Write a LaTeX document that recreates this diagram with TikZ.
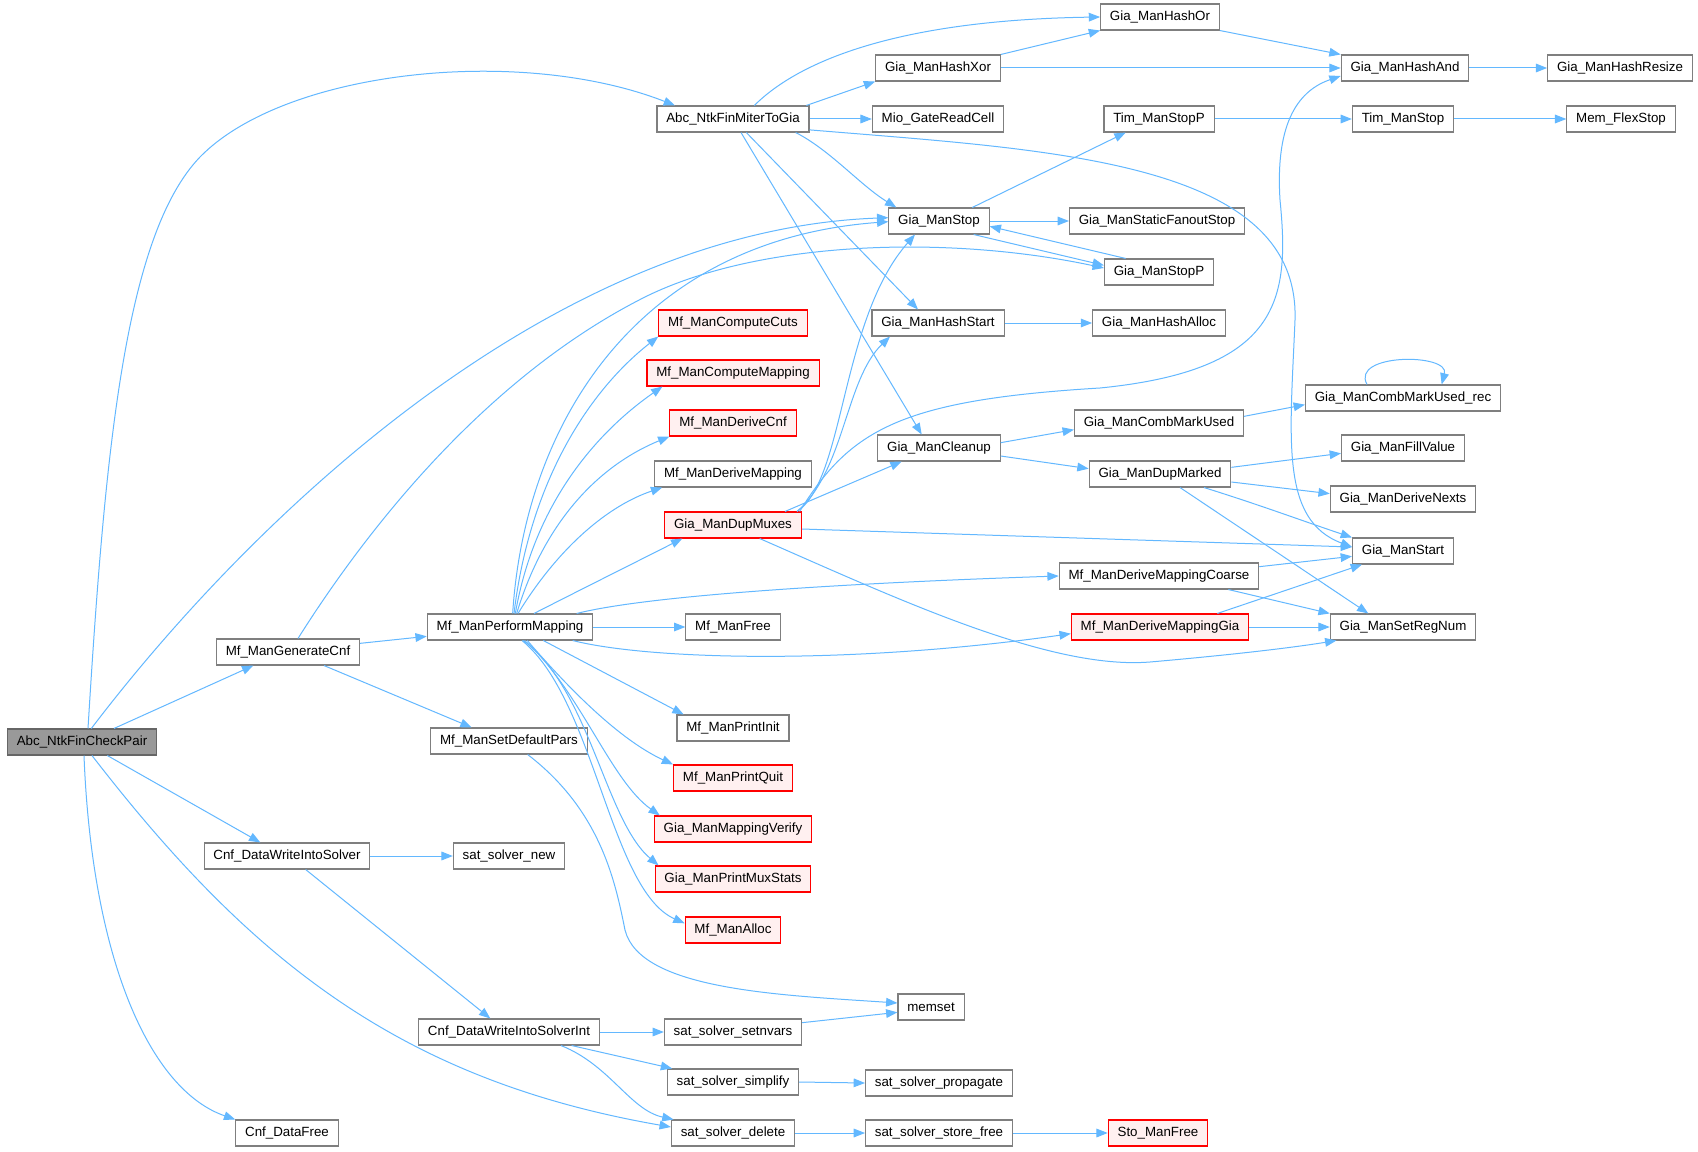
\documentclass[tikz,border=0pt]{standalone}
\usepackage{fontspec}
\setmainfont{Liberation Sans}
\usepackage{tikz}
\usetikzlibrary{arrows.meta}
\definecolor{edgeblue}{HTML}{63B8FF}
\definecolor{boxgray}{HTML}{7F7F7F}
\definecolor{rootgray}{HTML}{999999}
\definecolor{redfill}{HTML}{FFF0F0}
\tikzstyle{func} = [rectangle, draw=boxgray, fill=white, line width=0.8pt,
    minimum height=19.5pt, inner xsep=7pt, inner ysep=0pt, font=\fontsize{10}{12}\selectfont]
\tikzstyle{funcred} = [func, draw=red, fill=redfill]
\tikzstyle{funcroot} = [func, draw=boxgray!80!black, fill=rootgray]
\tikzstyle{call} = [draw=edgeblue, line width=0.75pt, -{Triangle[length=8.5pt,width=6.5pt]}]

\begin{document}
\begin{tikzpicture}[x=0.75pt, y=-0.75pt]
  \fill[white] (0,0) rectangle (1698,1152);
  \useasboundingbox (0,0) rectangle (1698,1152);
  % Place nodes
  \node [funcroot] (check) at (82,742) {Abc\_NtkFinCheckPair};
  \node [func] (gencnf) at (288,652) {Mf\_ManGenerateCnf};
  \node [func] (wis) at (287,856) {Cnf\_DataWriteIntoSolver};
  \node [func] (cdf) at (287,1133) {Cnf\_DataFree};
  \node [func] (miter) at (733,119) {Abc\_NtkFinMiterToGia};
  \node [func] (perf) at (510,627) {Mf\_ManPerformMapping};
  \node [func] (setdef) at (509,741) {Mf\_ManSetDefaultPars};
  \node [func] (satnew) at (509,856) {sat\_solver\_new};
  \node [func] (wisi) at (509,1032) {Cnf\_DataWriteIntoSolverInt};
  \node [funcred] (cuts) at (733,323) {Mf\_ManComputeCuts};
  \node [funcred] (cmap) at (733,373) {Mf\_ManComputeMapping};
  \node [funcred] (dcnf) at (733,423) {Mf\_ManDeriveCnf};
  \node [func] (dmap) at (733,474) {Mf\_ManDeriveMapping};
  \node [funcred] (dupmux) at (733,525) {Gia\_ManDupMuxes};
  \node [func] (mffree) at (733,627) {Mf\_ManFree};
  \node [func] (pinit) at (733,728) {Mf\_ManPrintInit};
  \node [funcred] (pquit) at (733,778) {Mf\_ManPrintQuit};
  \node [funcred] (verify) at (733,829) {Gia\_ManMappingVerify};
  \node [funcred] (muxstats) at (733,879) {Gia\_ManPrintMuxStats};
  \node [funcred] (alloc) at (733,930) {Mf\_ManAlloc};
  \node [func] (setnvars) at (733,1032) {sat\_solver\_setnvars};
  \node [func] (simplify) at (733,1082) {sat\_solver\_simplify};
  \node [func] (satdel) at (733,1133) {sat\_solver\_delete};
  \node [func] (hashxor) at (938,68) {Gia\_ManHashXor};
  \node [func] (mio) at (938,119) {Mio\_GateReadCell};
  \node [func] (stop) at (939,221) {Gia\_ManStop};
  \node [func] (hashstart) at (938,323) {Gia\_ManHashStart};
  \node [func] (cleanup) at (939,448) {Gia\_ManCleanup};
  \node [func] (memset) at (931,1007) {memset};
  \node [func] (propagate) at (939,1083) {sat\_solver\_propagate};
  \node [func] (storefree) at (939,1133) {sat\_solver\_store\_free};
  \node [func] (hashor) at (1160,17) {Gia\_ManHashOr};
  \node [func] (timstopp) at (1159,119) {Tim\_ManStopP};
  \node [func] (fanout) at (1157,221) {Gia\_ManStaticFanoutStop};
  \node [func] (stopp) at (1159,272) {Gia\_ManStopP};
  \node [func] (hashalloc) at (1159,323) {Gia\_ManHashAlloc};
  \node [func] (combmark) at (1159,423) {Gia\_ManCombMarkUsed};
  \node [func] (dupmarked) at (1160,474) {Gia\_ManDupMarked};
  \node [func] (coarse) at (1159,576) {Mf\_ManDeriveMappingCoarse};
  \node [funcred] (dmgia) at (1160,627) {Mf\_ManDeriveMappingGia};
  \node [funcred] (stofree) at (1158,1133) {Sto\_ManFree};
  \node [func] (hashand) at (1405,68) {Gia\_ManHashAnd};
  \node [func] (timstop) at (1403,119) {Tim\_ManStop};
  \node [func] (combrec) at (1403,398) {Gia\_ManCombMarkUsed\_rec};
  \node [func] (fillvalue) at (1403,448) {Gia\_ManFillValue};
  \node [func] (nexts) at (1403,499) {Gia\_ManDeriveNexts};
  \node [func] (start) at (1403,551) {Gia\_ManStart};
  \node [func] (setreg) at (1403,627) {Gia\_ManSetRegNum};
  \node [func] (hashresize) at (1620,68) {Gia\_ManHashResize};
  \node [func] (flexstop) at (1621,119) {Mem\_FlexStop};
  % Draw edges
  \draw[call] ([xshift=4.5pt]check.north) .. controls (105,450) and (125,235) .. (200,157) .. controls (285,70) and (520,45) .. ([xshift=-43.5pt]miter.north);
  \draw[call] ([xshift=7pt]check.north) .. controls (250,520) and (550,230) .. ([yshift=2.5pt]stop.west);
  \draw[call] ([xshift=24pt]check.north) -- ([xshift=-26pt]gencnf.south);
  \draw[call] ([xshift=19pt]check.south) -- ([xshift=-20pt]wis.north);
  \draw[call] ([xshift=1.5pt]check.south) .. controls (92,960) and (150,1090) .. (cdf.north west);
  \draw[call] ([xshift=7.5pt]check.south) .. controls (250,960) and (400,1080) .. ([yshift=4.5pt]satdel.west);
  \draw[call] ([xshift=7.5pt]gencnf.north) .. controls (360,540) and (480,380) .. (645,297) .. controls (760,240) and (950,235) .. ([yshift=3pt]stopp.west);
  \draw[call] ([yshift=6.5pt]gencnf.east) -- ([yshift=-7pt]perf.west);
  \draw[call] ([xshift=27pt]gencnf.south) -- ([xshift=-28pt]setdef.north);
  \draw[call] ([xshift=2pt]perf.north) .. controls (525,420) and (640,240) .. ([yshift=-0.5pt]stop.west);
  \draw[call] ([xshift=3pt]perf.north) .. controls (530,480) and (590,390) .. (cuts.south west);
  \draw[call] ([xshift=4pt]perf.north) .. controls (535,500) and (600,430) .. ([xshift=12pt]cmap.south west);
  \draw[call] ([xshift=5pt]perf.north) .. controls (545,520) and (600,465) .. (dcnf.south west);
  \draw[call] ([xshift=6pt]perf.north) .. controls (560,545) and (610,505) .. ([xshift=6pt]dmap.south west);
  \draw[call] ([xshift=18pt]perf.north) .. controls (580,590) and (640,560) .. ([xshift=-38pt]dupmux.south);
  \draw[call] ([xshift=50pt]perf.north) .. controls (650,595) and (850,583) .. (coarse.west);
  \draw[call] (perf.east) -- (mffree.west);
  \draw[call] ([xshift=47pt]perf.south) .. controls (650,660) and (850,665) .. ([yshift=-5pt]dmgia.west);
  \draw[call] ([xshift=25pt]perf.south) -- ([xshift=-37pt]pinit.north);
  \draw[call] ([xshift=13pt]perf.south) .. controls (570,690) and (620,740) .. (pquit.north west);
  \draw[call] ([xshift=11pt]perf.south) .. controls (580,690) and (610,780) .. ([xshift=4.5pt]verify.north west);
  \draw[call] ([xshift=10pt]perf.south) .. controls (590,690) and (605,820) .. ([xshift=3pt]muxstats.north west);
  \draw[call] ([xshift=9pt]perf.south) .. controls (595,700) and (610,890) .. ([yshift=5pt]alloc.west);
  \draw[call] ([xshift=16pt]miter.north) .. controls (800,60) and (900,20) .. (hashor.west);
  \draw[call] ([xshift=55pt]miter.north) -- (hashxor.south west);
  \draw[call] (miter.east) -- (mio.west);
  \draw[call] ([xshift=47pt]miter.south) .. controls (830,150) and (860,185) .. ([xshift=-32pt]stop.north);
  \draw[call] ([yshift=2pt]miter.south east) .. controls (1050,150) and (1300,160) .. (1295,320) .. controls (1290,440) and (1280,520) .. ([yshift=3pt]start.west);
  \draw[call] ([xshift=10pt]miter.south) -- ([xshift=-15pt]hashstart.north);
  \draw[call] ([xshift=6pt]miter.south) -- ([xshift=-13pt]cleanup.north);
  \draw[call] ([xshift=25pt]stop.north) -- ([xshift=-25pt]timstopp.south);
  \draw[call] (stop.east) -- (fanout.west);
  \draw[call] ([xshift=26pt]stop.south) -- ([yshift=5pt]stopp.west);
  \draw[call] ([xshift=-25pt]stopp.north) -- ([yshift=-4pt]stop.east);
  \draw[call] (hashxor.north east) -- (hashor.south west);
  \draw[call] (hashxor.east) -- (hashand.west);
  \draw[call] (hashor.south east) -- (hashand.north west);
  \draw[call] (hashand.east) -- (hashresize.west);
  \draw[call] (timstopp.east) -- (timstop.west);
  \draw[call] (timstop.east) -- (flexstop.west);
  \draw[call] (hashstart.east) -- (hashalloc.west);
  \draw[call] ([yshift=4pt]cleanup.east) -- ([yshift=-5pt]combmark.west);
  \draw[call] ([yshift=-6pt]cleanup.east) -- ([yshift=4pt]dupmarked.west);
  \draw[call] ([yshift=5pt]combmark.east) -- ([yshift=-5pt]combrec.west);
  \draw[call] ([xshift=-27pt]combrec.north) .. controls (1350,353) and (1450,353) .. ([xshift=29pt]combrec.north);
  \draw[call] ([xshift=48pt]dupmux.north) .. controls (845,480) and (840,320) .. ([xshift=-18pt]stop.south);
  \draw[call] ([xshift=48pt]dupmux.north) .. controls (845,470) and (845,380) .. ([xshift=-36pt]hashstart.south);
  \draw[call] ([xshift=50pt]dupmux.north) .. controls (850,430) and (900,400) .. (1100,388) .. controls (1280,370) and (1290,300) .. (1280,200) .. controls (1275,120) and (1300,90) .. ([yshift=-6pt]hashand.west);
  \draw[call] ([xshift=39pt]dupmux.north) -- ([xshift=-28pt]cleanup.south);
  \draw[call] ([yshift=-3pt]dupmux.east) -- ([yshift=3pt]start.west);
  \draw[call] ([xshift=20pt]dupmux.south) .. controls (900,600) and (1050,670) .. (1150,662) .. controls (1230,655) and (1290,648) .. ([xshift=5pt]setreg.south west);
  \draw[call] ([yshift=5pt]dupmarked.east) -- ([yshift=-4pt]fillvalue.west);
  \draw[call] ([yshift=-6pt]dupmarked.east) -- ([yshift=4pt]nexts.west);
  \draw[call] ([xshift=33pt]dupmarked.south) .. controls (1260,505) and (1300,520) .. (start.north west);
  \draw[call] ([xshift=15pt]dupmarked.south) -- ([xshift=-26pt]setreg.north);
  \draw[call] ([yshift=7pt]coarse.east) -- ([yshift=-4pt]start.west);
  \draw[call] ([xshift=52pt]coarse.south) -- (setreg.north west);
  \draw[call] ([xshift=43pt]dmgia.north) -- ([xshift=7.5pt]start.south west);
  \draw[call] (dmgia.east) -- (setreg.west);
  \draw[call] ([xshift=14pt]setdef.south) .. controls (600,810) and (615,880) .. (625,930) .. controls (640,990) and (780,995) .. ([yshift=3pt]memset.west);
  \draw[call] ([yshift=7pt]setnvars.east) -- ([yshift=-4pt]memset.west);
  \draw[call] (wis.east) -- (satnew.west);
  \draw[call] ([xshift=14pt]wis.south) -- ([xshift=-14pt]wisi.north);
  \draw[call] (wisi.east) -- (setnvars.west);
  \draw[call] ([xshift=47pt]wisi.south) -- ([xshift=4pt]simplify.north west);
  \draw[call] ([xshift=39pt]wisi.south) .. controls (610,1065) and (630,1110) .. ([xshift=2pt]satdel.north west);
  \draw[call] (simplify.east) -- (propagate.west);
  \draw[call] (satdel.east) -- (storefree.west);
  \draw[call] (storefree.east) -- (stofree.west);
\end{tikzpicture}
\end{document}
